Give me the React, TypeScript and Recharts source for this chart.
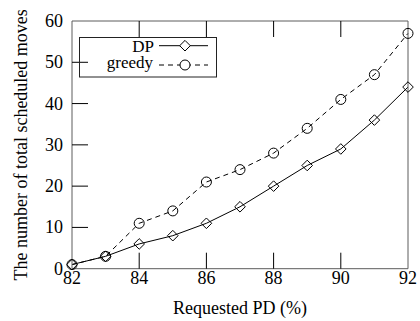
import React from "react";
import { LineChart, Line, XAxis, YAxis, Legend } from "recharts";

const requestedPD = [82, 83, 84, 85, 86, 87, 88, 89, 90, 91, 92];
const dpMoves = [1, 3, 6, 8, 11, 15, 20, 25, 29, 36, 44];
const greedyMoves = [1, 3, 11, 14, 21, 24, 28, 34, 41, 47, 57];
const xTicks = [82, 84, 86, 88, 90, 92];
const yTicks = [0, 10, 20, 30, 40, 50, 60];
const seriesNames = ["DP", "greedy"];
const xTitle = "Requested PD (%)";
const yTitle = "The number of total scheduled moves";

const data = requestedPD.map((pd, i) => ({ pd, dp: dpMoves[i], greedy: greedyMoves[i] }));

const FONT = "Liberation Serif, DejaVu Serif, serif";
const FRAME = "#5c5c5c";
const TICK = 16;

const isEndX = (v: number) => v === xTicks[0] || v === xTicks[xTicks.length - 1];
const isEndY = (v: number) => v === yTicks[0] || v === yTicks[yTicks.length - 1];

const txt = { fontSize: 18, fontFamily: FONT, fill: "#000" } as const;
const legTxt = { fontSize: 17, fontFamily: FONT, fill: "#000" } as const;

const BottomTick = (p: any) => {
  const { x, y, payload } = p;
  return (
    <g>
      {!isEndX(payload.value) && <line x1={x} y1={y} x2={x} y2={y - TICK} stroke="#000" />}
      <text x={x} y={y + 15} textAnchor="middle" style={txt}>
        {payload.value}
      </text>
    </g>
  );
};
const TopTick = (p: any) => {
  const { x, y, payload } = p;
  if (isEndX(payload.value)) return <g />;
  return <line x1={x} y1={y} x2={x} y2={y + TICK} stroke="#000" />;
};
const LeftTick = (p: any) => {
  const { x, y, payload } = p;
  return (
    <g>
      {!isEndY(payload.value) && <line x1={x} y1={y} x2={x + TICK} y2={y} stroke="#000" />}
      <text x={x - 9} y={y + 6} textAnchor="end" style={txt}>
        {payload.value}
      </text>
    </g>
  );
};
const RightTick = (p: any) => {
  const { x, y, payload } = p;
  if (isEndY(payload.value)) return <g />;
  return <line x1={x} y1={y} x2={x - TICK} y2={y} stroke="#000" />;
};

const Diamond = (p: any) => {
  const { cx, cy } = p;
  if (cx == null || cy == null) return <g key={p.key} />;
  const r = 5.3;
  return (
    <path
      key={p.key}
      d={`M${cx},${cy - r}L${cx + r},${cy}L${cx},${cy + r}L${cx - r},${cy}Z`}
      fill="none"
      stroke="#000"
      strokeWidth={1}
    />
  );
};
const Circle = (p: any) => {
  const { cx, cy } = p;
  if (cx == null || cy == null) return <g key={p.key} />;
  return <circle key={p.key} cx={cx} cy={cy} r={5} fill="none" stroke="#000" strokeWidth={1} />;
};

const YTitle = (p: any) => {
  const vb = p.viewBox || {};
  const cy = vb.y + vb.height / 2;
  return (
    <text transform={`translate(27, ${cy}) rotate(-90)`} x={0} y={0} textAnchor="middle" style={txt}>
      {yTitle}
    </text>
  );
};
const XTitle = (p: any) => {
  const vb = p.viewBox || {};
  const cx = vb.x + vb.width / 2;
  return (
    <text x={cx} y={vb.y + 45} textAnchor="middle" style={txt}>
      {xTitle}
    </text>
  );
};

const LegendBox = () => (
  <svg width={140} height={42} style={{ display: "block" }}>
    <rect x={0.5} y={0.5} width={137} height={39.5} fill="none" stroke="#222" strokeWidth={1} />
    <text x={75} y={14.5} textAnchor="end" style={legTxt}>
      {seriesNames[0]}
    </text>
    <line x1={80} y1={8.7} x2={129} y2={8.7} stroke="#000" />
    <path d="M106,3.4L111.3,8.7L106,14L100.7,8.7Z" fill="#fff" stroke="#000" />
    <text x={74} y={30.5} textAnchor="end" style={legTxt}>
      {seriesNames[1]}
    </text>
    <line x1={80} y1={28} x2={129} y2={28} stroke="#000" strokeDasharray="5 4" />
    <circle cx={106} cy={28} r={5} fill="#fff" stroke="#000" />
  </svg>
);

export default function App() {
  return (
    <div style={{ position: "absolute", left: 0, top: 0, width: 420, height: 321, background: "#fff" }}>
      <LineChart width={420} height={321} data={data} margin={{ top: 0, right: 0, bottom: 0, left: 0 }}>
        <XAxis
          xAxisId="bottom"
          dataKey="pd"
          type="number"
          domain={[82, 92]}
          ticks={xTicks}
          orientation="bottom"
          height={52.3}
          tickSize={0}
          tickMargin={0}
          tickLine={false}
          axisLine={{ stroke: FRAME }}
          tick={BottomTick}
          interval={0}
          label={<XTitle />}
        />
        <XAxis
          xAxisId="top"
          dataKey="pd"
          type="number"
          domain={[82, 92]}
          ticks={xTicks}
          orientation="top"
          height={21}
          tickSize={0}
          tickMargin={0}
          tickLine={false}
          axisLine={{ stroke: FRAME }}
          tick={TopTick}
          interval={0}
        />
        <YAxis
          yAxisId="left"
          type="number"
          domain={[0, 60]}
          ticks={yTicks}
          orientation="left"
          width={72}
          tickSize={0}
          tickMargin={0}
          tickLine={false}
          axisLine={{ stroke: FRAME }}
          tick={LeftTick}
          interval={0}
          label={<YTitle />}
        />
        <YAxis
          yAxisId="right"
          type="number"
          domain={[0, 60]}
          ticks={yTicks}
          orientation="right"
          width={12}
          tickSize={0}
          tickMargin={0}
          tickLine={false}
          axisLine={{ stroke: FRAME }}
          tick={RightTick}
          interval={0}
        />
        <Legend
          layout="horizontal"
          verticalAlign="middle"
          align="center"
          content={<LegendBox />}
          wrapperStyle={{ position: "absolute", left: 79, top: 37, width: 140, height: 42 }}
        />
        <Line
          xAxisId="bottom"
          yAxisId="left"
          type="linear"
          dataKey="dp"
          name={seriesNames[0]}
          stroke="#000"
          strokeWidth={1}
          dot={Diamond}
          activeDot={false}
          isAnimationActive={false}
        />
        <Line
          xAxisId="bottom"
          yAxisId="left"
          type="linear"
          dataKey="greedy"
          name={seriesNames[1]}
          stroke="#000"
          strokeWidth={1}
          strokeDasharray="5 4"
          dot={Circle}
          activeDot={false}
          isAnimationActive={false}
        />
      </LineChart>
    </div>
  );
}
